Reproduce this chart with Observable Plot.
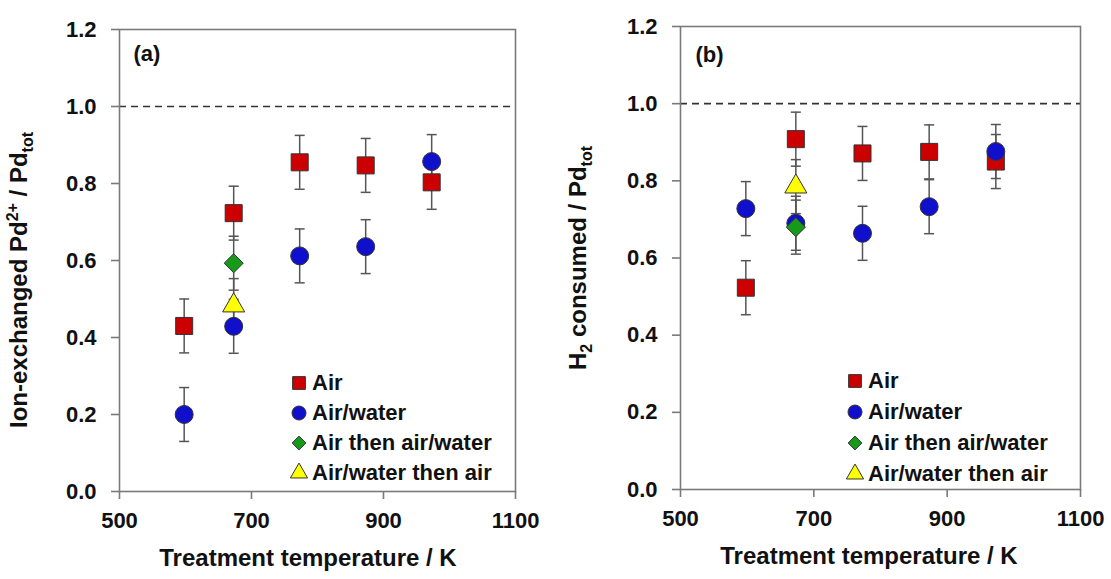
<!DOCTYPE html>
<html><head><meta charset="utf-8">
<script src="https://cdn.jsdelivr.net/npm/d3@7"></script>
<script src="https://cdn.jsdelivr.net/npm/@observablehq/plot@0.6"></script>
<style>
body{margin:0;background:#fff;font-family:"Liberation Sans",Arial,sans-serif;}
#wrap{position:relative;width:1111px;height:579px;overflow:hidden;background:#fff}
.panel{position:absolute;top:0}
.legend{position:absolute;font-weight:bold;font-size:22px;color:#111;font-family:"Liberation Sans",Arial,sans-serif}
.legend .row{display:flex;align-items:center;white-space:nowrap}
.legend svg{width:20px;height:20px;margin-right:3px;flex:none;overflow:visible}
</style></head><body><div id="wrap"></div>
<script>
// ---- data ----
const temperatures = [598, 673, 773, 873, 973];
const temperatureSingle = [673];
const seriesNames = ["Air", "Air/water", "Air then air/water", "Air/water then air"];
const seriesColors = ["#cc0000", "#1010cc", "#169a1a", "#ffff00"];
const seriesSymbols = ["square", "circle", "diamond2", "triangle"];
const xTicks = [500, 700, 900, 1100];
const yTicks = [0, 0.2, 0.4, 0.6, 0.8, 1.0, 1.2];

// panel (a): ion-exchanged Pd2+ / Pd_tot
const ionAir = [0.430, 0.723, 0.855, 0.847, 0.803];
const ionAirErr = [0.07, 0.07, 0.07, 0.07, 0.07];
const ionAirWater = [0.200, 0.429, 0.612, 0.636, 0.857];
const ionAirWaterErr = [0.07, 0.07, 0.07, 0.07, 0.07];
const ionAirThenAirWater = [0.593];
const ionAirThenAirWaterErr = [0.07];
const ionAirWaterThenAir = [0.483];
const ionAirWaterThenAirErr = [0.07];

// panel (b): H2 consumed / Pd_tot
const h2Air = [0.523, 0.908, 0.871, 0.875, 0.850];
const h2AirErr = [0.07, 0.07, 0.07, 0.07, 0.07];
const h2AirWater = [0.728, 0.690, 0.664, 0.733, 0.876];
const h2AirWaterErr = [0.07, 0.07, 0.07, 0.07, 0.07];
const h2AirThenAirWater = [0.680];
const h2AirThenAirWaterErr = [0.07];
const h2AirWaterThenAir = [0.785];
const h2AirWaterThenAirErr = [0.07];

// ---- build ----
function rowsOf(name, xs, ys, es) {
  return xs.map((x, i) => ({series: name, x, y: ys[i], e: es[i]}));
}
const ionRows = [
  ...rowsOf("Air", temperatures, ionAir, ionAirErr),
  ...rowsOf("Air/water", temperatures, ionAirWater, ionAirWaterErr),
  ...rowsOf("Air then air/water", temperatureSingle, ionAirThenAirWater, ionAirThenAirWaterErr),
  ...rowsOf("Air/water then air", temperatureSingle, ionAirWaterThenAir, ionAirWaterThenAirErr)
];
const h2Rows = [
  ...rowsOf("Air", temperatures, h2Air, h2AirErr),
  ...rowsOf("Air/water", temperatures, h2AirWater, h2AirWaterErr),
  ...rowsOf("Air then air/water", temperatureSingle, h2AirThenAirWater, h2AirThenAirWaterErr),
  ...rowsOf("Air/water then air", temperatureSingle, h2AirWaterThenAir, h2AirWaterThenAirErr)
];

const capSymbol = {draw(ctx, size) { const w = Math.sqrt(size / Math.PI); ctx.moveTo(-w, 0); ctx.lineTo(w, 0); }};
const markerR = {"square": 9.6, "circle": 9, "diamond2": 8.6, "triangle": 8.2};
const FONT = '"Liberation Sans", Arial, sans-serif';

function makePanel(rows, cfg) {
  const seriesMarks = seriesNames.map((name, i) =>
    Plot.dot(rows.filter(d => d.series === name), {
      x: "x", y: "y", symbol: () => seriesSymbols[i], r: markerR[seriesSymbols[i]],
      fill: seriesColors[i], stroke: "#333", strokeWidth: 1
    })
  );
  const svg = Plot.plot({
    width: cfg.width, height: 579,
    marginLeft: cfg.ml, marginRight: cfg.mr, marginTop: cfg.mt, marginBottom: cfg.mb,
    x: {domain: [500, 1100], ticks: xTicks, tickFormat: d => String(d), label: null},
    y: {domain: [0, 1.2], ticks: yTicks, tickFormat: d3.format(".1f"), label: null},
    symbol: {domain: seriesSymbols, range: seriesSymbols},
    style: {fontFamily: FONT, fontSize: "22px", fontWeight: "bold", background: "white", color: "#111", overflow: "visible"},
    marks: [
      Plot.ruleY([1], {stroke: "#333", strokeWidth: 1.6, strokeDasharray: "7,5"}),
      Plot.frame({stroke: "#7a7a7a", strokeWidth: 1.6}),
      Plot.axisX({ticks: xTicks, tickFormat: d => String(d), tickSize: 8, tickPadding: 13, stroke: "#7a7a7a", strokeWidth: 1.6, fill: "#111", label: null}),
      Plot.axisY({ticks: yTicks, tickFormat: d3.format(".1f"), tickSize: 8, tickPadding: 15, stroke: "#7a7a7a", strokeWidth: 1.6, fill: "#111", label: null}),
      Plot.ruleX(rows, {x: "x", y1: d => d.y - d.e, y2: d => d.y + d.e, stroke: "#555", strokeWidth: 1.5}),
      Plot.dot(rows, {x: "x", y: d => d.y + d.e, symbol: () => capSymbol, r: 5, stroke: "#555", strokeWidth: 1.5, fill: "none"}),
      Plot.dot(rows, {x: "x", y: d => d.y - d.e, symbol: () => capSymbol, r: 5, stroke: "#555", strokeWidth: 1.5, fill: "none"}),
      ...seriesMarks,
      Plot.text([cfg.tag], {frameAnchor: "top-left", dx: cfg.tagDx, dy: cfg.tagDy, fontSize: 22, fontWeight: "bold", fill: "#111"})
    ]
  });
  // axis titles with sub/superscripts
  const s = d3.select(svg);
  s.append("text")
    .attr("x", cfg.xTitleX).attr("y", cfg.xTitleY)
    .attr("text-anchor", "middle").attr("fill", "#111")
    .style("font-size", "24px").style("font-weight", "bold").style("font-family", FONT)
    .text("Treatment temperature / K");
  const yt = s.append("text")
    .attr("transform", `translate(${cfg.yTitleX},${cfg.yTitleY}) rotate(-90)`)
    .attr("text-anchor", "middle").attr("fill", "#111")
    .style("font-size", "24px").style("font-weight", "bold").style("font-family", FONT);
  cfg.yTitleParts.forEach(p => {
    const t = yt.append("tspan").text(p.t);
    if (p.dy) t.attr("dy", p.dy);
    if (p.small) t.style("font-size", "16px");
  });
  return svg;
}

const wrap = document.getElementById("wrap");

const panelA = makePanel(ionRows, {
  width: 555, ml: 119, mr: 40, mt: 29, mb: 88, tag: "(a)", tagDx: 14, tagDy: 16,
  xTitleX: 308, xTitleY: 566, yTitleX: 27, yTitleY: 280,
  yTitleParts: [{t: "Ion-exchanged Pd"}, {t: "2+", dy: -9, small: true}, {t: " / Pd", dy: 9}, {t: "tot", dy: 6, small: true}]
});
const panelB = makePanel(h2Rows, {
  width: 556, ml: 125, mr: 31, mt: 26, mb: 90, tag: "(b)", tagDx: 15, tagDy: 20,
  xTitleX: 314, xTitleY: 564, yTitleX: 31, yTitleY: 258,
  yTitleParts: [{t: "H"}, {t: "2", dy: 6, small: true}, {t: " consumed / Pd", dy: -6}, {t: "tot", dy: 6, small: true}]
});
panelA.setAttribute("class", "panel"); panelA.style.left = "0px";
panelB.setAttribute("class", "panel"); panelB.style.left = "555px";
wrap.appendChild(panelA);
wrap.appendChild(panelB);

// ---- legends (HTML) ----
function makeLegend(left, top, rowH) {
  const div = document.createElement("div");
  div.className = "legend";
  div.style.left = left + "px"; div.style.top = top + "px";
  const legendR = {"square": 7.2, "circle": 7, "diamond2": 6.2, "triangle": 6.4};
  seriesNames.forEach((name, i) => {
    const row = document.createElement("div");
    row.className = "row"; row.style.height = rowH + "px";
    const sv = d3.create("svg").attr("viewBox", "-10 -10 20 20");
    const r = legendR[seriesSymbols[i]];
    const sym = {square: d3.symbolSquare, circle: d3.symbolCircle, diamond2: d3.symbolDiamond2, triangle: d3.symbolTriangle}[seriesSymbols[i]];
    sv.append("path").attr("d", d3.symbol(sym, r * r * Math.PI)())
      .attr("fill", seriesColors[i]).attr("stroke", "#333").attr("stroke-width", 1);
    row.appendChild(sv.node());
    const span = document.createElement("span");
    span.textContent = name;
    row.appendChild(span);
    div.appendChild(row);
  });
  wrap.appendChild(div);
}
makeLegend(289, 368, 30);
makeLegend(845, 365, 31);
</script>
</body></html>
